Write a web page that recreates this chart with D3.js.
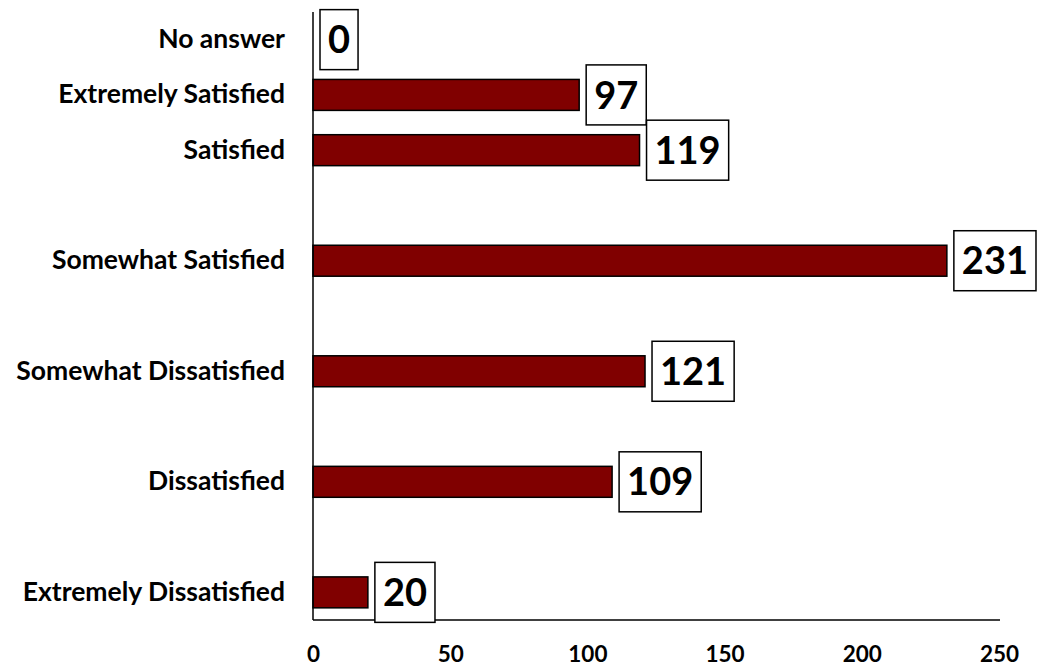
<!DOCTYPE html>
<html>
<head>
<meta charset="utf-8">
<script src="https://cdn.jsdelivr.net/npm/d3@7"></script>
<style>
  html, body { margin: 0; padding: 0; background: #fff; }
  svg { display: block; }
  text { font-family: Lato, "Open Sans", sans-serif; font-weight: bold; fill: #000; }
</style>
</head>
<body>
<svg id="chart" width="1046" height="667"></svg>
<script>
const categories = ["No answer", "Extremely Satisfied", "Satisfied", "Somewhat Satisfied",
                    "Somewhat Dissatisfied", "Dissatisfied", "Extremely Dissatisfied"];
const values = [0, 97, 119, 231, 121, 109, 20];
const xTicks = [0, 50, 100, 150, 200, 250];

const svg = d3.select("#chart");

// slots: the first three categories are adjacent, the rest are separated by an empty slot
const domain = categories.flatMap((c, i) =>
  (i >= 2 && i < categories.length - 1) ? [c, "__gap" + i] : [c]);

const x = d3.scaleLinear().domain([0, 250]).range([313, 999]);
const y = d3.scaleBand().domain(domain).range([12, 620]).paddingInner(0.44).paddingOuter(0.22);
const slot = d3.scaleBand().domain(domain).range([12, 620]);

const data = categories.map((c, i) => ({ c, v: values[i] }));

// bars
svg.append("g").selectAll("rect").data(data).join("rect")
  .attr("x", x(0))
  .attr("y", d => y(d.c))
  .attr("width", d => x(d.v) - x(0))
  .attr("height", y.bandwidth())
  .attr("fill", "#800000")
  .attr("stroke", "#000")
  .attr("stroke-width", 1.5)
  .attr("display", d => d.v === 0 ? "none" : null);

// axes lines
svg.append("line").attr("x1", x(0)).attr("x2", x(0)).attr("y1", 12).attr("y2", 620)
  .attr("stroke", "#000").attr("stroke-width", 1.5);
svg.append("line").attr("x1", x(0)).attr("x2", x(250) + 1).attr("y1", 620).attr("y2", 620)
  .attr("stroke", "#000").attr("stroke-width", 1.5);

// x tick labels
const xAxis = d3.axisBottom(x).tickValues(xTicks).tickSize(0).tickPadding(0);
const gx = svg.append("g").attr("transform", "translate(0,620)").call(xAxis);
gx.select(".domain").remove();
gx.selectAll("text").attr("font-size", 22.5).attr("fill", "#000")
  .attr("dy", null).attr("y", 42)
  .style("font-family", "Lato, 'Open Sans', sans-serif").style("font-weight", "bold");

// category labels
const yAxis = d3.axisLeft(slot).tickValues(categories).tickSize(0).tickPadding(0);
const gy = svg.append("g").attr("transform", "translate(285,0)").call(yAxis);
gy.select(".domain").remove();
gy.selectAll("text").attr("font-size", 26.5).attr("fill", "#000").attr("x", 0)
  .style("font-family", "Lato, 'Open Sans', sans-serif").style("font-weight", "bold");

// value labels with boxes
const lab = svg.append("g").selectAll("g").data(data).join("g");
const boxH = 60, padX = 8, gap = 7;
lab.each(function(d) {
  const g = d3.select(this);
  const cy = slot(d.c) + slot.bandwidth() / 2;
  const rect = g.append("rect");
  const t = g.append("text")
    .attr("font-size", 38)
    .attr("y", cy)
    .attr("dy", "0.36em")
    .text(d.v);
  const w = t.node().getComputedTextLength();
  const bx = x(d.v) + gap;
  t.attr("x", bx + padX);
  rect.attr("x", bx).attr("y", cy - boxH / 2).attr("width", w + 2 * padX).attr("height", boxH)
    .attr("fill", "#fff").attr("stroke", "#000").attr("stroke-width", 1.5);
});
</script>
</body>
</html>
